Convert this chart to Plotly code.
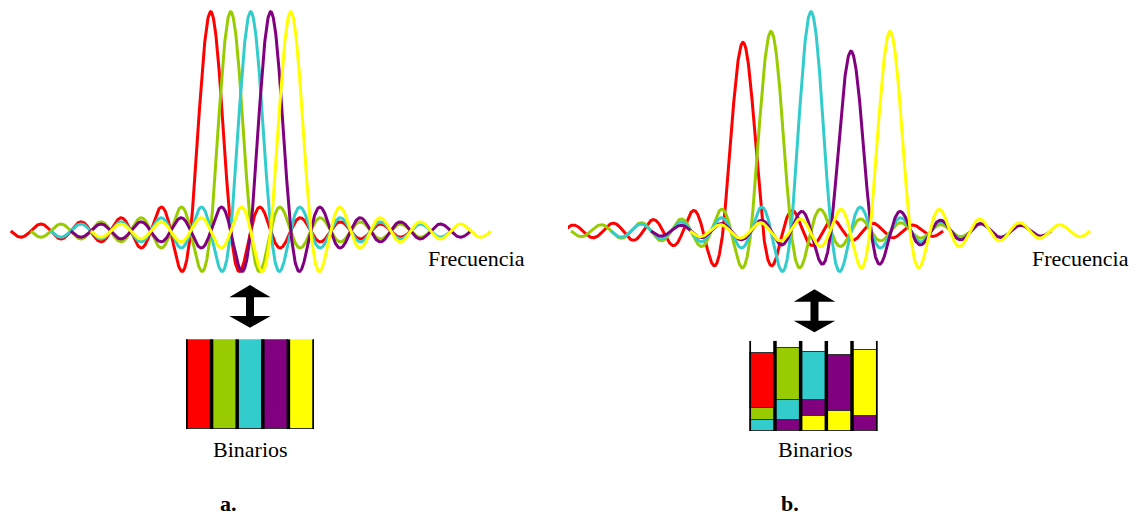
import numpy as np
import plotly.graph_objects as go

# ---------------- data ----------------
W, H = 1136, 515
carrier_colors = ["#FF0000", "#99CC00", "#33CCCC", "#800080", "#FFFF00"]

# panel a: orthogonal sub-carriers (centres in units of the sub-carrier spacing)
centers_a = [0, 1, 2, 3, 4]
amps_a = [1.0, 1.0, 1.0, 1.0, 1.0]

# panel b: shifted / unequal sub-carriers
centers_b = [-1.4, 0, 2, 4, 5.95]
amps_b = [0.86, 0.91, 1.0, 0.82, 0.91]

lobe_span = 10          # each pulse drawn over +/- 10 spacings
sidelobe_scale = 0.85   # side lobes slightly flatter than a pure sinc

# bins (a): one full bin per carrier
bins_a = [100, 100, 100, 100, 100]

# bins (b): stacked layers, bottom to top (percent of bin height)
bins_b_layer1 = [13, 13, 17, 22, 17]
bins_b_layer1_col = ["#33CCCC", "#800080", "#FFFF00", "#FFFF00", "#800080"]
bins_b_layer2 = [13, 22, 18, 62, 73]
bins_b_layer2_col = ["#99CC00", "#33CCCC", "#800080", "#800080", "#FFFF00"]
bins_b_layer3 = [61, 57, 53, 0, 0]
bins_b_layer3_col = ["#FF0000", "#99CC00", "#33CCCC", "#FFFFFF", "#FFFFFF"]

bin_positions = [0, 1, 2, 3, 4]

# ---------------- helpers ----------------
def pulse(center, amp):
    u = np.linspace(center - lobe_span, center + lobe_span, 1601)
    s = np.sinc(u - center)
    s = np.where(np.abs(u - center) < 1, s, s * sidelobe_scale)
    return u, amp * s

def px(x):
    return x / W

def py(y):
    return (H - y) / H

fig = go.Figure()

# pulses panel a
for c, a, col in zip(centers_a, amps_a, carrier_colors):
    u, v = pulse(c, a)
    fig.add_trace(go.Scatter(x=u, y=v, mode="lines", line=dict(color=col, width=3),
                             xaxis="x", yaxis="y", showlegend=False, hoverinfo="skip"))
# pulses panel b
for c, a, col in zip(centers_b, amps_b, carrier_colors):
    u, v = pulse(c, a)
    fig.add_trace(go.Scatter(x=u, y=v, mode="lines", line=dict(color=col, width=3),
                             xaxis="x2", yaxis="y2", showlegend=False, hoverinfo="skip"))

# bins panel a
fig.add_trace(go.Bar(x=bin_positions, y=bins_a, marker=dict(color=carrier_colors,
                     line=dict(color="#333333", width=1)), width=1,
                     xaxis="x3", yaxis="y3", showlegend=False, hoverinfo="skip"))
# bins panel b
for vals, cols in [(bins_b_layer1, bins_b_layer1_col), (bins_b_layer2, bins_b_layer2_col),
                   (bins_b_layer3, bins_b_layer3_col)]:
    fig.add_trace(go.Bar(x=bin_positions, y=vals, marker=dict(color=cols,
                         line=dict(color="#333333", width=1)), width=1,
                         xaxis="x4", yaxis="y4", showlegend=False, hoverinfo="skip"))

# bin separators
sep_x, sep_y = [], []
for k in range(len(bin_positions) + 1):
    sep_x += [k - 0.5, k - 0.5, None]
    sep_y += [0, 100, None]
for xa, ya in [("x3", "y3"), ("x4", "y4")]:
    fig.add_trace(go.Scatter(x=sep_x, y=sep_y, mode="lines", line=dict(color="black", width=3.5),
                             xaxis=xa, yaxis=ya, showlegend=False, hoverinfo="skip"))

# ---------------- layout ----------------
hidden = dict(visible=False, showgrid=False, zeroline=False)
y_base, y_scale = 231, 219.3
yr = [(y_base - H) / y_scale, y_base / y_scale]
x_mid = W / 2

fig.update_layout(
    width=W, height=H, margin=dict(l=0, r=0, t=0, b=0),
    paper_bgcolor="white", plot_bgcolor="white", barmode="stack", bargap=0,
    xaxis=dict(domain=[0, 0.5], range=[(0 - 210.7) / 20, (x_mid - 210.7) / 20], **hidden),
    yaxis=dict(domain=[0, 1], range=yr, **hidden),
    xaxis2=dict(domain=[0.5, 1], range=[(x_mid - 771) / 20, (W - 771) / 20], anchor="y2", **hidden),
    yaxis2=dict(domain=[0, 1], range=yr, anchor="x2", **hidden),
    xaxis3=dict(domain=[px(186), px(314)], range=[-0.5, 4.5], anchor="y3", **hidden),
    yaxis3=dict(domain=[py(429.3), py(339.3)], range=[0, 100], anchor="x3", **hidden),
    xaxis4=dict(domain=[px(749.3), px(877.7)], range=[-0.5, 4.5], anchor="y4", **hidden),
    yaxis4=dict(domain=[py(431), py(340.7)], range=[0, 100], anchor="x4", **hidden),
)

def arrow_path(cx, top, base1, base2, bottom, half_head=20.7, half_shaft=4):
    pts = [(cx, top), (cx + half_head, base1), (cx + half_shaft, base1), (cx + half_shaft, base2),
           (cx + half_head, base2), (cx, bottom), (cx - half_head, base2), (cx - half_shaft, base2),
           (cx - half_shaft, base1), (cx - half_head, base1)]
    return "M " + " L ".join(f"{px(x):.5f},{py(y):.5f}" for x, y in pts) + " Z"

for args in [(250, 285, 297.3, 316, 327.7), (814.5, 289.3, 301.7, 320.7, 332.3)]:
    fig.add_shape(type="path", path=arrow_path(*args), xref="paper", yref="paper",
                  fillcolor="black", line=dict(color="black", width=0))

serif = "Liberation Serif, Times New Roman, serif"
texts = [
    ("Frecuencia", 476, 258, False),
    ("Frecuencia", 1080, 258, False),
    ("Binarios", 250, 449, False),
    ("Binarios", 815, 449, False),
    ("a.", 228, 503, True),
    ("b.", 790, 503, True),
]
for t, x, y, bold in texts:
    fig.add_annotation(text=f"<b>{t}</b>" if bold else t, x=px(x), y=py(y), xref="paper", yref="paper",
                       xanchor="center", yanchor="middle", showarrow=False,
                       font=dict(family=serif, size=22, color="black"))

# remove the default page margin so the 1136x515 figure fills the window exactly
fig.write_html("out.html", config={"displayModeBar": False},
               post_script="document.body.style.margin='0px';")
